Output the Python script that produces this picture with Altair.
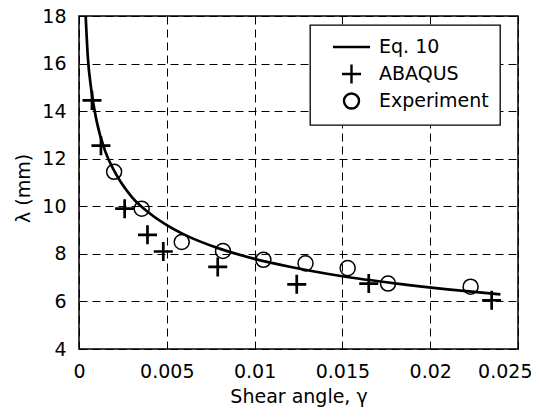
import altair as alt
import pandas as pd

# Eq. 10 curve
curve_gamma = [0.00038, 0.0005, 0.0007, 0.001, 0.0015, 0.002, 0.003, 0.004, 0.005,
               0.006, 0.008, 0.010, 0.012, 0.015, 0.018, 0.021, 0.024]
curve_lambda = [18.0, 16.3, 14.9, 13.6, 12.3, 11.5, 10.4, 9.72, 9.21,
                8.81, 8.22, 7.79, 7.46, 7.06, 6.76, 6.51, 6.30]

# ABAQUS results
abaqus_gamma = [0.00074, 0.00125, 0.0026, 0.0039, 0.0048, 0.0079, 0.0124, 0.0165, 0.0235]
abaqus_lambda = [14.45, 12.55, 9.9, 8.8, 8.1, 7.45, 6.72, 6.75, 6.05]

# Experiment
exp_gamma = [0.0020, 0.00357, 0.00585, 0.0082, 0.0105, 0.0129, 0.0153, 0.0176, 0.0223]
exp_lambda = [11.45, 9.9, 8.5, 8.12, 7.75, 7.6, 7.4, 6.75, 6.62]

series_names = ["Eq. 10", "ABAQUS", "Experiment"]
x_ticks = [0, 0.005, 0.01, 0.015, 0.02, 0.025]
y_ticks = [4, 6, 8, 10, 12, 14, 16, 18]

curve_df = pd.DataFrame({"g": curve_gamma, "lam": curve_lambda})
abq_df = pd.DataFrame({"g": abaqus_gamma, "lam": abaqus_lambda, "series": "ABAQUS"})
exp_df = pd.DataFrame({"g": exp_gamma, "lam": exp_lambda, "series": "Experiment"})

FONT = "DejaVu Sans"
FS = 19

xscale = alt.Scale(domain=[0, 0.025], nice=False, zero=False)
yscale = alt.Scale(domain=[4, 18], nice=False, zero=False)

xaxis = alt.Axis(title="Shear angle, γ", values=x_ticks,
                 format="~g", labelPadding=13, titlePadding=6, labelFlush=False,
                 labelAlign={"condition": {"test": "datum.value > 0.024", "value": "right"},
                             "value": "center"},
                 labelOffset={"condition": {"test": "datum.value > 0.024", "value": 14},
                              "value": 0})
yaxis = alt.Axis(title="λ (mm)", values=y_ticks,
                 labelPadding=13, titlePadding=8, labelFlush=False, titleY=172)

line = alt.Chart(curve_df).mark_line(color="black", strokeWidth=2.7, interpolate="monotone").encode(
    x=alt.X("g:Q", scale=xscale, axis=xaxis),
    y=alt.Y("lam:Q", scale=yscale, axis=yaxis),
)

plus_path = "M-1,0L1,0M0,-1L0,1"
circle_path = ("M0.79,0C0.79,0.436,0.436,0.79,0,0.79C-0.436,0.79,-0.79,0.436,-0.79,0"
               "C-0.79,-0.436,-0.436,-0.79,0,-0.79C0.436,-0.79,0.79,-0.436,0.79,0Z")
line_path = "M-1.95,0L1.95,0"

legend = alt.Legend(title=None, orient="none", legendX=231, legendY=9,
                    strokeColor="black", fillColor="white", padding=11,
                    rowPadding=-3, symbolOffset=19.5, labelOffset=16.5, gridAlign="all",
                    labelFont=FONT, labelFontSize=FS, labelColor="black",
                    symbolSize=361, symbolStrokeColor="black", symbolFillColor="transparent",
                    symbolStrokeWidth=2.4)

shape_enc = alt.Shape("series:N", scale=alt.Scale(domain=series_names,
                                                  range=[line_path, plus_path, circle_path]),
                      legend=legend)

abq = alt.Chart(abq_df).mark_point(filled=False, color="black", opacity=1, size=361,
                                   strokeWidth=2.7).encode(
    x=alt.X("g:Q", scale=xscale, axis=xaxis),
    y=alt.Y("lam:Q", scale=yscale, axis=yaxis),
    shape=shape_enc,
)
exp = alt.Chart(exp_df).mark_point(filled=False, color="black", opacity=1, size=361,
                                   strokeWidth=1.5).encode(
    x=alt.X("g:Q", scale=xscale, axis=xaxis),
    y=alt.Y("lam:Q", scale=yscale, axis=yaxis),
    shape=shape_enc,
)

chart = alt.layer(line, abq, exp).properties(
    width=439, height=333,
    autosize=alt.AutoSizeParams(type="none"),
    padding={"left": 71, "top": 8, "right": 13, "bottom": 60},
).configure_view(
    stroke="black", strokeWidth=1.5
).configure_axis(
    labelFont=FONT, labelFontSize=FS, labelColor="black",
    titleFont=FONT, titleFontSize=FS, titleFontWeight="normal", titleColor="black",
    grid=True, gridColor="black", gridDash=[8, 5], gridWidth=1, gridOpacity=1,
    ticks=False, domain=False,
).configure_legend(
    strokeWidth=1.3, cornerRadius=0
)

chart.save("out.html", embed_options={"renderer": "svg", "actions": False})
